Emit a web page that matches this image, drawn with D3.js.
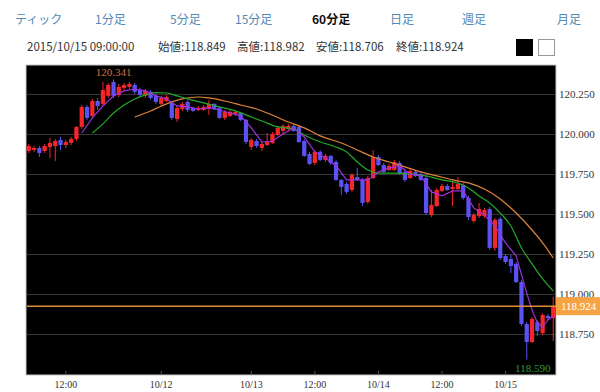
<!DOCTYPE html>
<html>
<head>
<meta charset="utf-8">
<script src="https://cdn.jsdelivr.net/npm/d3@7"></script>
<style>
  body { margin: 0; background: #fff; }
  svg { display: block; }
</style>
</head>
<body>
<div id="chart"></div>
<script>
// hourly sessions shown on the chart (weekend gap between 10/10 and 10/12)
const sessions = [
  { day: '10/09', from: 5, to: 23 },
  { day: '10/10', from: 0, to: 5 },
  { day: '10/12', from: 7, to: 23 },
  { day: '10/13', from: 0, to: 23 },
  { day: '10/14', from: 0, to: 23 },
  { day: '10/15', from: 0, to: 9 },
];
const times = [];
sessions.forEach((s) => {
  for (let h = s.from; h <= s.to; h++) times.push(s.day + ' ' + String(h).padStart(2, '0') + ':00');
});

const opens = [
  119.894, 119.900, 119.913, 119.894, 119.919, 119.925, 119.963, 119.931, 119.944, 119.969,
  120.044, 120.169, 120.113, 120.206, 120.188, 120.238, 120.325, 120.244, 120.288, 120.294,
  120.306, 120.275, 120.238, 120.263, 120.238, 120.188, 120.206, 120.194, 120.094, 120.156,
  120.200, 120.163, 120.150, 120.150, 120.156, 120.188, 120.163, 120.100, 120.113, 120.125,
  120.131, 120.088, 119.919, 119.956, 119.913, 119.931, 119.944, 119.994, 120.019, 120.031,
  120.050, 120.044, 119.956, 119.875, 119.819, 119.888, 119.838, 119.863, 119.825, 119.713,
  119.688, 119.650, 119.731, 119.713, 119.575, 119.725, 119.856, 119.806, 119.775, 119.775,
  119.819, 119.763, 119.725, 119.763, 119.750, 119.725, 119.494, 119.550, 119.644, 119.675,
  119.656, 119.656, 119.681, 119.600, 119.456, 119.488, 119.488, 119.531, 119.288, 119.469,
  119.238, 119.219, 119.188, 119.075, 118.813, 118.700, 118.825, 118.756, 118.863, 118.849,
];
const highs = [
  119.938, 119.925, 119.925, 119.938, 119.975, 119.969, 119.981, 119.963, 119.981, 120.050,
  120.181, 120.181, 120.219, 120.225, 120.325, 120.319, 120.341, 120.313, 120.319, 120.325,
  120.319, 120.288, 120.281, 120.275, 120.250, 120.238, 120.244, 120.206, 120.175, 120.200,
  120.213, 120.169, 120.175, 120.181, 120.213, 120.194, 120.169, 120.150, 120.150, 120.144,
  120.138, 120.094, 119.975, 119.969, 119.950, 120.006, 120.013, 120.050, 120.063, 120.063,
  120.063, 120.056, 119.969, 119.888, 119.900, 119.900, 119.875, 119.869, 119.838, 119.719,
  119.700, 119.756, 119.788, 119.725, 119.738, 119.900, 119.869, 119.819, 119.813, 119.838,
  119.831, 119.775, 119.781, 119.775, 119.763, 119.738, 119.650, 119.663, 119.688, 119.688,
  119.706, 119.731, 119.694, 119.613, 119.506, 119.569, 119.538, 119.544, 119.475, 119.481,
  119.250, 119.244, 119.200, 119.088, 118.825, 118.856, 118.838, 118.881, 118.875, 118.982,
];
const lows = [
  119.881, 119.888, 119.856, 119.881, 119.850, 119.831, 119.900, 119.913, 119.931, 119.956,
  120.031, 120.088, 120.100, 120.150, 120.175, 120.225, 120.225, 120.231, 120.275, 120.281,
  120.250, 120.231, 120.225, 120.213, 120.188, 120.175, 120.200, 120.088, 120.075, 120.144,
  120.138, 120.138, 120.144, 120.144, 120.119, 120.150, 120.094, 120.088, 120.106, 120.113,
  120.081, 119.938, 119.900, 119.913, 119.894, 119.925, 119.938, 119.988, 120.000, 120.019,
  120.013, 119.944, 119.856, 119.806, 119.806, 119.831, 119.825, 119.806, 119.706, 119.619,
  119.625, 119.638, 119.706, 119.550, 119.563, 119.719, 119.800, 119.756, 119.769, 119.769,
  119.744, 119.700, 119.719, 119.731, 119.706, 119.494, 119.481, 119.544, 119.638, 119.644,
  119.550, 119.650, 119.588, 119.463, 119.444, 119.475, 119.475, 119.275, 119.269, 119.213,
  119.188, 119.131, 119.069, 118.800, 118.590, 118.694, 118.738, 118.744, 118.838, 118.706,
];
const closes = [
  119.925, 119.913, 119.881, 119.925, 119.944, 119.956, 119.931, 119.950, 119.969, 120.044,
  120.169, 120.100, 120.206, 120.175, 120.275, 120.306, 120.238, 120.294, 120.306, 120.313,
  120.263, 120.244, 120.269, 120.225, 120.200, 120.225, 120.231, 120.100, 120.163, 120.188,
  120.150, 120.144, 120.163, 120.169, 120.188, 120.156, 120.100, 120.138, 120.138, 120.138,
  120.088, 119.950, 119.963, 119.925, 119.938, 119.950, 120.000, 120.038, 120.050, 120.050,
  120.019, 119.950, 119.863, 119.813, 119.888, 119.838, 119.863, 119.819, 119.713, 119.669,
  119.638, 119.744, 119.713, 119.569, 119.725, 119.856, 119.806, 119.763, 119.800, 119.825,
  119.756, 119.713, 119.769, 119.738, 119.713, 119.506, 119.556, 119.650, 119.675, 119.650,
  119.669, 119.688, 119.600, 119.481, 119.494, 119.531, 119.525, 119.288, 119.463, 119.225,
  119.200, 119.175, 119.075, 118.813, 118.700, 118.844, 118.769, 118.869, 118.850, 118.924,
];

// moving averages: [candle index, value]
const maShort = [
  [10, 120.006], [12, 120.100], [14, 120.175], [16, 120.238], [18, 120.269], [20, 120.281],
  [22, 120.269], [24, 120.238], [26, 120.219], [28, 120.175], [30, 120.169], [32, 120.156],
  [34, 120.163], [36, 120.150], [38, 120.131], [40, 120.113], [42, 120.038], [44, 119.950],
  [46, 119.956], [48, 120.000], [50, 120.038], [52, 119.981], [54, 119.888], [56, 119.850],
  [58, 119.800], [60, 119.713], [62, 119.713], [64, 119.713], [66, 119.763], [68, 119.788],
  [70, 119.800], [72, 119.750], [74, 119.738], [76, 119.638], [78, 119.613], [80, 119.644],
  [82, 119.644], [84, 119.538], [86, 119.494], [88, 119.425], [90, 119.319], [92, 119.238],
  [94, 119.006], [95, 118.900], [96, 118.819], [97, 118.794], [98, 118.838], [99, 118.863],
];
const maMid = [
  [12, 120.006], [14, 120.063], [16, 120.131], [18, 120.181], [20, 120.219], [22, 120.244],
  [24, 120.259], [26, 120.256], [28, 120.238], [30, 120.219], [33, 120.194], [36, 120.169],
  [39, 120.144], [42, 120.106], [44, 120.081], [47, 120.044], [50, 120.031], [52, 119.994],
  [55, 119.950], [58, 119.919], [60, 119.888], [62, 119.825], [64, 119.775], [66, 119.756],
  [69, 119.756], [72, 119.750], [75, 119.738], [78, 119.713], [81, 119.694], [83, 119.663],
  [85, 119.613], [87, 119.569], [89, 119.506], [91, 119.425], [93, 119.288], [95, 119.188],
  [97, 119.094], [99, 119.019],
];
const maLong = [
  [20, 120.106], [23, 120.144], [26, 120.188], [29, 120.219], [32, 120.231], [34, 120.225],
  [37, 120.206], [40, 120.181], [43, 120.156], [45, 120.131], [49, 120.075], [52, 120.038],
  [55, 119.988], [59, 119.944], [62, 119.900], [65, 119.856], [68, 119.825], [71, 119.794],
  [74, 119.763], [77, 119.738], [80, 119.713], [83, 119.694], [86, 119.656], [89, 119.594],
  [92, 119.506], [95, 119.400], [97, 119.319], [99, 119.225],
];

const yTicks = [118.75, 119.0, 119.25, 119.5, 119.75, 120.0, 120.25];
const xTicks = ['10/09 12:00', '10/12 07:00', '10/13 00:00', '10/13 12:00', '10/14 00:00', '10/14 12:00', '10/15 00:00'];
const xTickLabels = ['12:00', '10/12', '10/13', '12:00', '10/14', '12:00', '10/15'];

const tabs = ['ティック', '1分足', '5分足', '15分足', '60分足', '日足', '週足', '月足'];
const tabX = [15, 95, 170, 235, 312, 390, 462, 557];
const activeTab = '60分足';
const infoTexts = ['2015/10/15 09:00:00', '始値:118.849', '高値:118.982', '安値:118.706', '終値:118.924'];
const infoX = [27, 158, 237, 316, 396];

const width = 600;
const height = 392;
const plot = { left: 26, right: 556, top: 65, bottom: 375 };
const upColor = '#f5262a';
const downColor = '#5a52f2';
const serif = '"Liberation Serif", "Times New Roman", serif';
const jp = '"Noto Sans CJK JP", "Noto Sans", sans-serif';

const svg = d3.select('#chart').append('svg').attr('width', width).attr('height', height);

// top tabs
svg
  .append('g')
  .selectAll('text')
  .data(tabs)
  .enter()
  .append('text')
  .attr('x', (d, i) => tabX[i])
  .attr('y', 24)
  .text((d) => d)
  .style('font-family', jp)
  .style('font-size', '12px')
  .style('font-weight', (d) => (d === activeTab ? 'bold' : 'normal'))
  .attr('fill', (d) => (d === activeTab ? '#111' : '#5288b5'));

// OHLC info line
svg
  .append('g')
  .selectAll('text')
  .data(infoTexts)
  .enter()
  .append('text')
  .attr('x', (d, i) => infoX[i])
  .attr('y', 51)
  .text((d) => d)
  .style('font-family', jp)
  .style('font-size', '11.5px')
  .attr('fill', '#333');

// colour switch squares
svg.append('rect').attr('x', 516).attr('y', 39).attr('width', 17).attr('height', 17).attr('fill', '#000');
svg
  .append('rect')
  .attr('x', 538.5)
  .attr('y', 39.5)
  .attr('width', 16)
  .attr('height', 16)
  .attr('fill', '#fff')
  .attr('stroke', '#999');

const x = d3.scaleBand().domain(times).range([plot.left, plot.right]).paddingInner(0.2).paddingOuter(0.12);
const cx = (t) => x(t) + x.bandwidth() / 2;
const y = d3.scaleLinear().domain([118.494, 120.431]).range([plot.bottom, plot.top]);

// plot background
svg
  .append('rect')
  .attr('x', plot.left)
  .attr('y', plot.top)
  .attr('width', plot.right - plot.left)
  .attr('height', plot.bottom - plot.top)
  .attr('fill', '#000')
  .attr('stroke', '#c8c8c8');

// y axis: grid lines + labels on the right
const yAxis = (g) =>
  g
    .attr('transform', `translate(${plot.right}, 0)`)
    .call(d3.axisRight(y).tickValues(yTicks).tickFormat(d3.format('.3f')).tickSize(0).tickPadding(3))
    .call((g) => g.select('.domain').remove())
    .call((g) =>
      g
        .selectAll('.tick line')
        .attr('x1', plot.left - plot.right + 1)
        .attr('x2', -1)
        .attr('stroke', '#363636')
    )
    .call((g) => g.selectAll('text').style('font-family', serif).style('font-size', '11px').attr('fill', '#333'));
svg.append('g').call(yAxis);

// x axis labels
const xAxis = (g) =>
  g
    .attr('transform', `translate(0, ${plot.bottom})`)
    .call(
      d3
        .axisBottom(x)
        .tickValues(xTicks)
        .tickFormat((d, i) => xTickLabels[i])
        .tickSize(0)
        .tickPadding(6)
    )
    .call((g) => g.select('.domain').remove())
    .call((g) => g.selectAll('.tick line').attr('y1', -4).attr('y2', 0).attr('stroke', '#555'))
    .call((g) => g.selectAll('text').style('font-family', serif).style('font-size', '10px').attr('fill', '#333'));
svg.append('g').call(xAxis);

const candles = times.map((t, i) => ({ t, o: opens[i], h: highs[i], l: lows[i], c: closes[i] }));

// wicks
svg
  .append('g')
  .selectAll('line')
  .data(candles)
  .enter()
  .append('line')
  .attr('x1', (d) => cx(d.t))
  .attr('x2', (d) => cx(d.t))
  .attr('y1', (d) => y(d.h))
  .attr('y2', (d) => y(d.l))
  .attr('stroke', (d) => (d.c >= d.o ? upColor : downColor))
  .attr('stroke-width', 1);

// bodies
svg
  .append('g')
  .selectAll('rect')
  .data(candles)
  .enter()
  .append('rect')
  .attr('x', (d) => x(d.t))
  .attr('y', (d) => y(Math.max(d.o, d.c)))
  .attr('width', x.bandwidth())
  .attr('height', (d) => Math.max(1, Math.abs(y(d.o) - y(d.c))))
  .attr('fill', (d) => (d.c >= d.o ? upColor : downColor));

// moving average lines
const maLine = (curve) =>
  d3
    .line()
    .x((d) => cx(times[d[0]]))
    .y((d) => y(d[1]))
    .curve(curve);
[
  { data: maLong, color: '#e0843a', curve: d3.curveMonotoneX },
  { data: maMid, color: '#24a82a', curve: d3.curveMonotoneX },
  { data: maShort, color: '#a030e0', curve: d3.curveLinear },
].forEach((m) => {
  svg
    .append('path')
    .attr('d', maLine(m.curve)(m.data))
    .attr('fill', 'none')
    .attr('stroke', m.color)
    .attr('stroke-width', 1.2);
});

// last price line and tag
const last = closes[closes.length - 1];
svg
  .append('line')
  .attr('x1', plot.left + 1)
  .attr('x2', plot.right)
  .attr('y1', y(last))
  .attr('y2', y(last))
  .attr('stroke', '#e08e36')
  .attr('stroke-width', 1.5);
svg
  .append('rect')
  .attr('x', plot.right)
  .attr('y', y(last) - 9)
  .attr('width', width - plot.right)
  .attr('height', 18)
  .attr('fill', '#f6a443');
svg
  .append('text')
  .attr('x', plot.right + 5)
  .attr('y', y(last) + 4)
  .text(d3.format('.3f')(last))
  .style('font-family', serif)
  .style('font-size', '11px')
  .attr('fill', '#fff');

// high / low markers
const hiIdx = d3.maxIndex(highs);
const loIdx = d3.minIndex(lows);
svg
  .append('text')
  .attr('x', cx(times[hiIdx]))
  .attr('y', y(highs[hiIdx]) - 3)
  .attr('text-anchor', 'middle')
  .text(d3.format('.3f')(highs[hiIdx]))
  .style('font-family', serif)
  .style('font-size', '11px')
  .attr('fill', '#d2703a');
svg
  .append('text')
  .attr('x', cx(times[loIdx]) + 6)
  .attr('y', plot.bottom - 3)
  .attr('text-anchor', 'middle')
  .text(d3.format('.3f')(lows[loIdx]))
  .style('font-family', serif)
  .style('font-size', '11px')
  .attr('fill', '#2e9a34');
</script>
</body>
</html>
